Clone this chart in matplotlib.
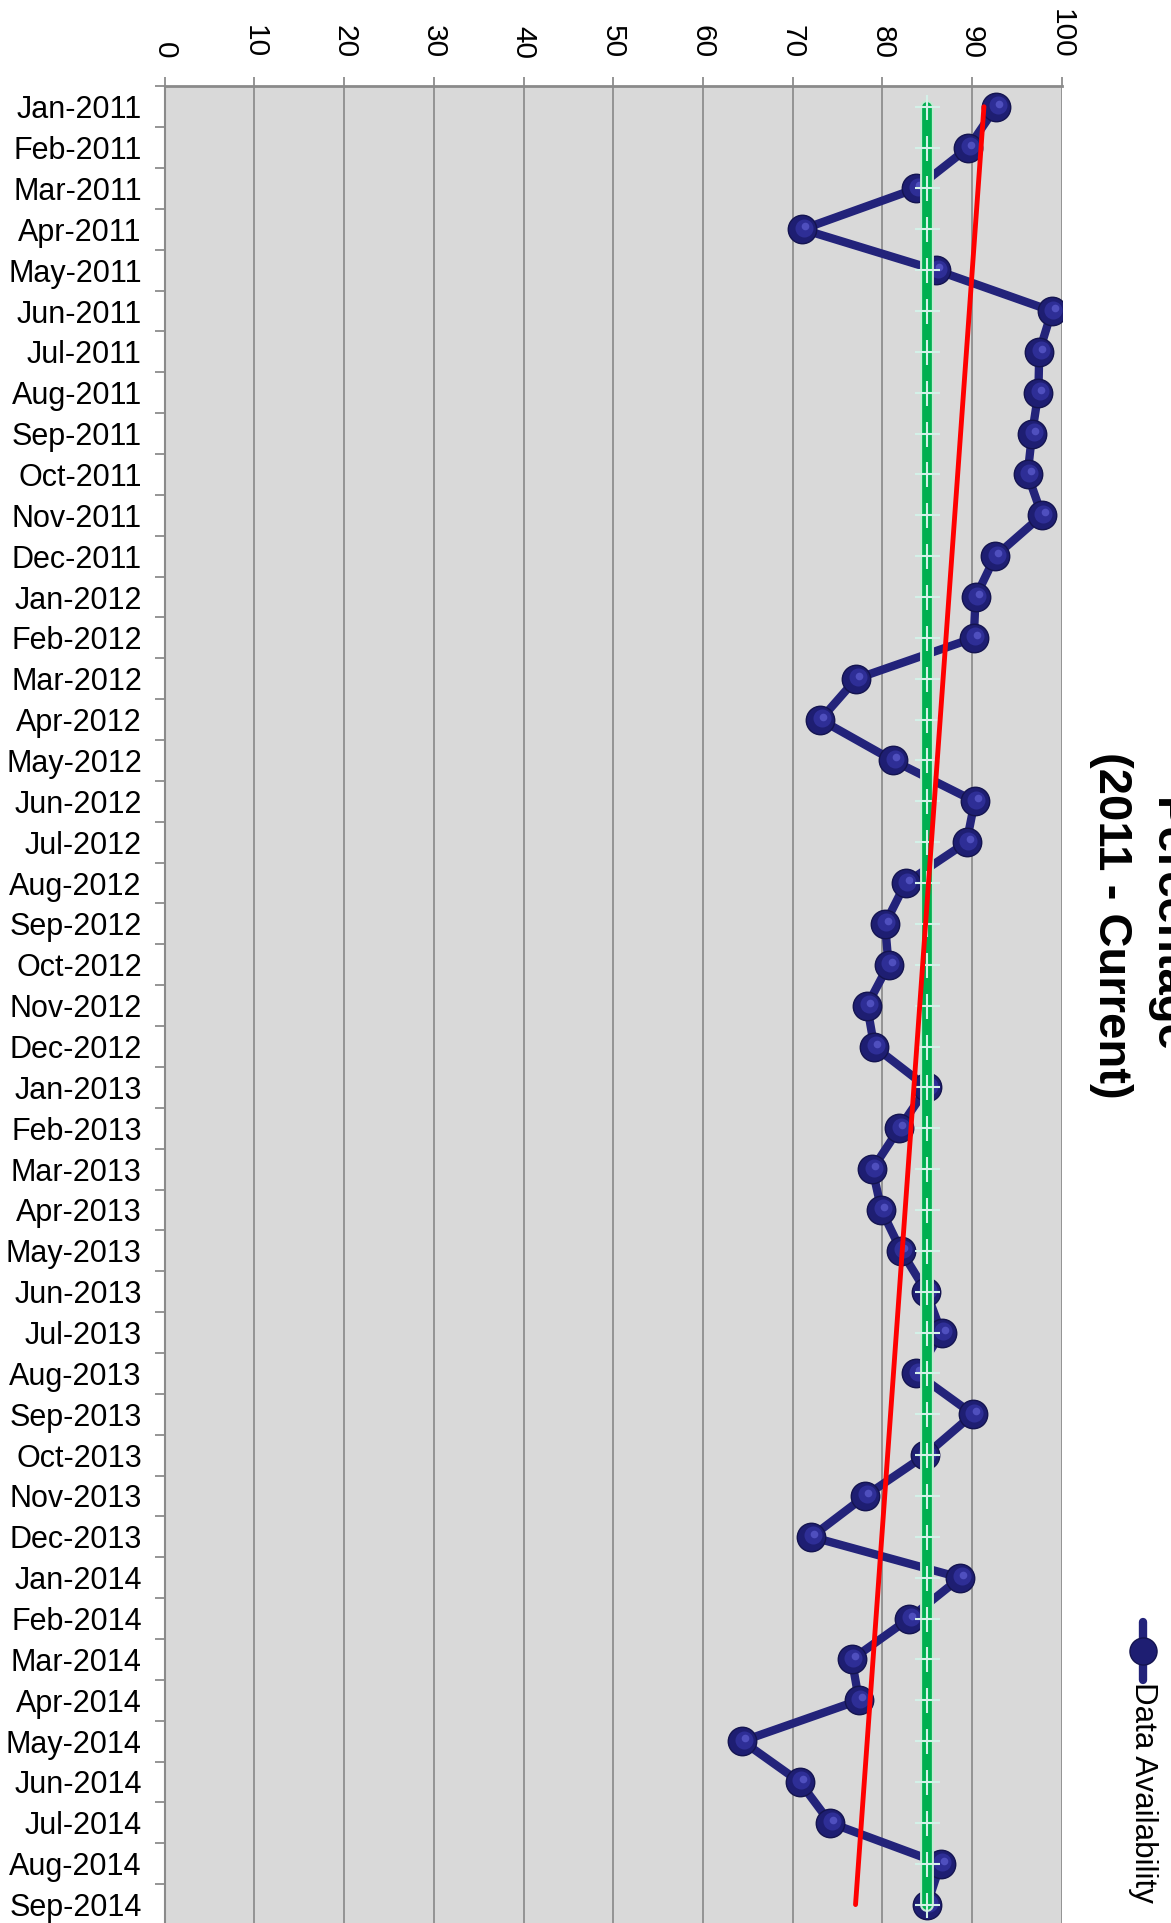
import matplotlib
matplotlib.use('Agg')
import matplotlib.pyplot as plt
import numpy as np
from matplotlib.lines import Line2D
from matplotlib.transforms import offset_copy

plt.rcParams['font.family'] = ['Liberation Sans', 'DejaVu Sans']

# ---------------- data ----------------
months = ['Jan-2011', 'Feb-2011', 'Mar-2011', 'Apr-2011', 'May-2011', 'Jun-2011',
          'Jul-2011', 'Aug-2011', 'Sep-2011', 'Oct-2011', 'Nov-2011', 'Dec-2011',
          'Jan-2012', 'Feb-2012', 'Mar-2012', 'Apr-2012', 'May-2012', 'Jun-2012',
          'Jul-2012', 'Aug-2012', 'Sep-2012', 'Oct-2012', 'Nov-2012', 'Dec-2012',
          'Jan-2013', 'Feb-2013', 'Mar-2013', 'Apr-2013', 'May-2013', 'Jun-2013',
          'Jul-2013', 'Aug-2013', 'Sep-2013', 'Oct-2013', 'Nov-2013', 'Dec-2013',
          'Jan-2014', 'Feb-2014', 'Mar-2014', 'Apr-2014', 'May-2014', 'Jun-2014',
          'Jul-2014', 'Aug-2014', 'Sep-2014']
availability = [92.7, 89.6, 83.8, 71.1, 86.0, 98.9, 97.5, 97.4, 96.7, 96.2, 97.8, 92.6,
                90.4, 90.2, 77.1, 73.1, 81.2, 90.3, 89.4, 82.6, 80.3, 80.7, 78.3, 79.1,
                85.0, 81.9, 78.9, 79.9, 82.1, 84.9, 86.6, 83.8, 90.1, 84.8, 78.1, 72.1,
                88.7, 83.0, 76.6, 77.4, 64.4, 70.8, 74.2, 86.5, 85.0]
target_value = 85
value_ticks = [0, 10, 20, 30, 40, 50, 60, 70, 80, 90, 100]
title_lines = ['Percentage', '(2011 - Current)']
legend_label = 'Data Availability'

# ---------------- figure ----------------
W, H = 1171, 1923
fig = plt.figure(figsize=(W / 100, H / 100), dpi=100)


def fx(px):
    return px / W


def fy(py):
    return 1 - py / H


left_px, right_px, top_px, bottom_px = 164.7, 1061.7, 86.3, 1925.0
ax = fig.add_axes([fx(left_px), fy(bottom_px), (right_px - left_px) / W,
                   (bottom_px - top_px) / H])
ax.set_facecolor('#D9D9D9')

n = len(months)
idx = np.arange(n)
ax.set_xlim(0, 100)
ax.set_ylim(n - 0.5, -0.5)

grey = '#8C8C8C'
ax.xaxis.tick_top()
ax.set_xticks(value_ticks)
ax.set_xticklabels([str(v) for v in value_ticks], rotation=-90, fontsize=21.5)
ax.tick_params(axis='x', which='major', direction='out', length=6.5, width=1.3,
               color=grey, pad=13.5)
ax.set_yticks(idx)
ax.set_yticklabels(months, fontsize=22)
ax.tick_params(axis='y', which='major', length=0, pad=16.5)
ax.set_yticks(np.arange(-0.5, n, 1.0), minor=True)
ax.tick_params(axis='y', which='minor', direction='out', length=7.2, width=1.3,
               color=grey)
ax.grid(axis='x', color='#8E8E8E', lw=1.3)
ax.set_axisbelow(True)
for s in ['right', 'bottom']:
    ax.spines[s].set_visible(False)
ax.spines['top'].set_color('#8A8A8A')
ax.spines['top'].set_linewidth(2)
ax.spines['left'].set_color('#8A8A8A')
ax.spines['left'].set_linewidth(1.5)

# ---------------- series ----------------
navy = '#23237A'
ax.plot(availability, idx, color=navy, lw=6, solid_capstyle='round',
        solid_joinstyle='round', zorder=3)
ax.plot(availability, idx, ls='none', marker='o', ms=20.5, mfc='#1E1E72',
        mec='#141450', mew=1, zorder=4)
hl1 = offset_copy(ax.transData, fig=fig, x=1.5, y=1.5, units='dots')
hl2 = offset_copy(ax.transData, fig=fig, x=3, y=3, units='dots')
ax.plot(availability, idx, ls='none', marker='o', ms=13, mfc='#2E2E96',
        mec='none', transform=hl1, zorder=4.1)
ax.plot(availability, idx, ls='none', marker='o', ms=5.5, mfc='#4F4FBE',
        mec='none', transform=hl2, zorder=4.2)

# target line
ax.plot([target_value, target_value], [idx[0], idx[-1]], color='#C4E9D2', lw=10,
        solid_capstyle='round', zorder=5)
ax.plot([target_value, target_value], [idx[0], idx[-1]], color='#00B050', lw=7,
        solid_capstyle='round', zorder=5.1)
ax.plot(np.full(n, target_value), idx, ls='none', marker='+', ms=18,
        mec='#D4F1E8', mew=1.5, zorder=5.2)

# linear trend of the series
coef = np.polyfit(idx, availability, 1)
ax.plot(np.polyval(coef, [idx[0], idx[-1]]), [idx[0], idx[-1]], color='#FF0000',
        lw=3.5, solid_capstyle='round', zorder=6)

# ---------------- title ----------------
fig.text(fx(1167), fy(925), title_lines[0], rotation=-90, ha='center',
         va='center', fontsize=34, fontweight='bold')
fig.text(fx(1111), fy(925), title_lines[1], rotation=-90, ha='center',
         va='center', fontsize=34, fontweight='bold')

# ---------------- legend ----------------
fig.add_artist(Line2D([fx(1143), fx(1143)], [fy(1622), fy(1680)], color=navy,
                      lw=6, solid_capstyle='round', transform=fig.transFigure))
fig.add_artist(Line2D([fx(1143)], [fy(1651)], ls='none', marker='o', ms=19.5,
                      mfc='#1E1E72', mec='#141450', mew=1,
                      transform=fig.transFigure))
fig.text(fx(1143), fy(1682), legend_label, rotation=-90, ha='center', va='top',
         fontsize=22.5)

fig.savefig('out.png', dpi=100)
